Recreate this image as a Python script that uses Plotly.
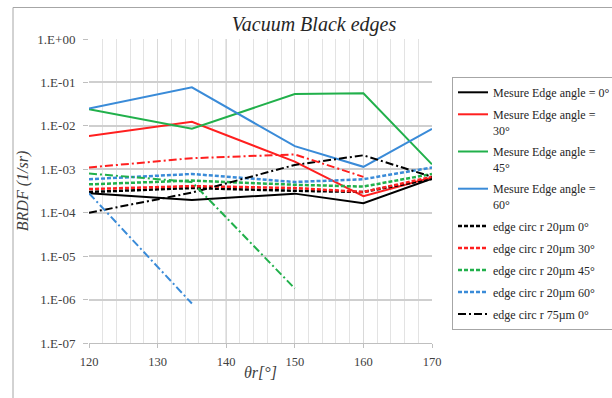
import plotly.graph_objects as go

# Reflection angle θr (degrees)
theta_r = [120, 135, 150, 160, 170]

# Measured BRDF for different edge angles
mesure_0 = [2.8e-4, 1.95e-4, 2.75e-4, 1.66e-4, 6.1e-4]
mesure_30 = [5.8e-3, 1.24e-2, 1.5e-3, 2.4e-4, 6.5e-4]
mesure_45 = [2.4e-2, 8.6e-3, 5.4e-2, 5.6e-2, 1.3e-3]
mesure_60 = [2.5e-2, 7.7e-2, 3.4e-3, 1.14e-3, 8.5e-3]

# Simulated BRDF, circular edge r = 20 µm
circ20_0 = [3.0e-4, 3.7e-4, 3.2e-4, 3.0e-4, 6.0e-4]
circ20_30 = [3.5e-4, 4.1e-4, 3.7e-4, 3.0e-4, 6.7e-4]
circ20_45 = [4.5e-4, 5.5e-4, 4.4e-4, 4.0e-4, 7.8e-4]
circ20_60 = [5.9e-4, 7.8e-4, 5.1e-4, 5.9e-4, 1.1e-3]

# Simulated BRDF, circular edge r = 75 µm
circ75_0 = [1.0e-4, 2.9e-4, 1.26e-3, 2.1e-3, 6.7e-4]
circ75_30 = [1.1e-3, 1.8e-3, 2.2e-3, 6.7e-4, None]
theta_45 = [120, 135, 150]
circ75_45 = [8.0e-4, 5.1e-4, 1.8e-6]
theta_60 = [120, 135]
circ75_60 = [2.8e-4, 8.1e-7]

# Axis ticks
y_tickvals = [1, 1e-1, 1e-2, 1e-3, 1e-4, 1e-5, 1e-6, 1e-7]
y_ticktext = ["1.E+00", "1.E-01", "1.E-02", "1.E-03", "1.E-04", "1.E-05", "1.E-06", "1.E-07"]

BLACK = "#000000"
RED = "#FF1F1F"
GREEN = "#21B04B"
BLUE = "#3A8BD8"
SHORT_DASH = "4px,2px"
DASH_DOT = "8px,3px,2px,3px"

series = [
    ("Mesure Edge angle = 0°", theta_r, mesure_0, BLACK, "solid", 2, True),
    ("Mesure Edge angle =<br>30°", theta_r, mesure_30, RED, "solid", 2, True),
    ("Mesure Edge angle =<br>45°", theta_r, mesure_45, GREEN, "solid", 2, True),
    ("Mesure Edge angle =<br>60°", theta_r, mesure_60, BLUE, "solid", 2, True),
    ("edge circ r 20µm 0°", theta_r, circ20_0, BLACK, SHORT_DASH, 2.5, True),
    ("edge circ r 20µm 30°", theta_r, circ20_30, RED, SHORT_DASH, 2.5, True),
    ("edge circ r 20µm 45°", theta_r, circ20_45, GREEN, SHORT_DASH, 2.5, True),
    ("edge circ r 20µm 60°", theta_r, circ20_60, BLUE, SHORT_DASH, 2.5, True),
    ("edge circ r 75µm 0°", theta_r, circ75_0, BLACK, DASH_DOT, 2, True),
    ("edge circ r 75µm 30°", theta_r, circ75_30, RED, DASH_DOT, 2, False),
    ("edge circ r 75µm 45°", theta_45, circ75_45, GREEN, DASH_DOT, 2, False),
    ("edge circ r 75µm 60°", theta_60, circ75_60, BLUE, DASH_DOT, 2, False),
]

fig = go.Figure()
for i, (name, xs, ys, color, dash, width, show) in enumerate(series):
    fig.add_trace(go.Scatter(
        x=xs, y=ys, name=name, mode="lines",
        line=dict(color=color, dash=dash, width=width),
        showlegend=show, legendgroup=f"g{i}",
    ))

SERIF = "Liberation Serif"

# Plot area spans 89..432 px horizontally and 39..343 px vertically
L, R, T, B = 89, 180, 39, 55
W, H = 612, 398
pw, ph = W - L - R, H - T - B


def px(x):
    return (x - L) / pw


def py(y):
    return (H - B - y) / ph


fig.update_layout(
    width=W, height=H,
    margin=dict(l=L, r=R, t=T, b=B, autoexpand=False),
    paper_bgcolor="white", plot_bgcolor="white",
    font=dict(family=SERIF, size=12, color="#404040"),
    title=dict(
        text="Vacuum Black edges", x=314 / W, xref="container", xanchor="center",
        y=1 - 24 / H, yref="container", yanchor="middle",
        font=dict(family=SERIF, size=20, style="italic", color="#262626"),
    ),
    xaxis=dict(
        range=[120, 170], dtick=10, tick0=120,
        showgrid=True, gridcolor="#d9d9d9", gridwidth=1,
        minor=dict(dtick=2, showgrid=True, gridcolor="#e3e3e3", gridwidth=1),
        showline=True, linecolor="#bfbfbf", linewidth=1,
        ticks="outside", ticklen=4, tickcolor="#bfbfbf",
        ticklabelstandoff=3,
        zeroline=False,
        tickfont=dict(family=SERIF, size=12.5, color="#404040"),
    ),
    yaxis=dict(
        type="log", range=[-7, 0],
        tickvals=y_tickvals, ticktext=y_ticktext,
        showgrid=True, gridcolor="#cfcfcf", gridwidth=1.5,
        showline=False,
        ticks="outside", ticklen=5, tickcolor="#bfbfbf",
        ticklabelstandoff=5,
        zeroline=False,
        tickfont=dict(family=SERIF, size=13, color="#404040"),
        title=dict(text="BRDF (1/sr)", standoff=4,
                   font=dict(family=SERIF, size=16, style="italic", color="#404040")),
    ),
    legend=dict(
        x=px(452), y=py(77), xanchor="left", yanchor="top",
        bordercolor="#a6a6a6", borderwidth=1, bgcolor="white",
        font=dict(family=SERIF, size=12, color="#262626"),
        valign="top", tracegroupgap=3, itemwidth=30,
        traceorder="grouped",
    ),
    annotations=[
        # x-axis title
        dict(text="θr[°]", xref="paper", yref="paper", x=0.5, y=py(372),
             xanchor="center", yanchor="middle", showarrow=False,
             font=dict(family=SERIF, size=16, style="italic", color="#404040")),
    ],
    shapes=[
        # darker vertical gridline at 140
        dict(type="line", xref="x", yref="paper", x0=140, x1=140, y0=0, y1=1,
             line=dict(color="#b3b3b3", width=1), layer="below"),
        # chart-area border
        dict(type="rect", xref="paper", yref="paper",
             x0=px(13), x1=px(640), y0=py(420), y1=py(7.5),
             line=dict(color="#a6a6a6", width=1), fillcolor="rgba(0,0,0,0)"),
    ],
)

fig.write_html("out.html")
